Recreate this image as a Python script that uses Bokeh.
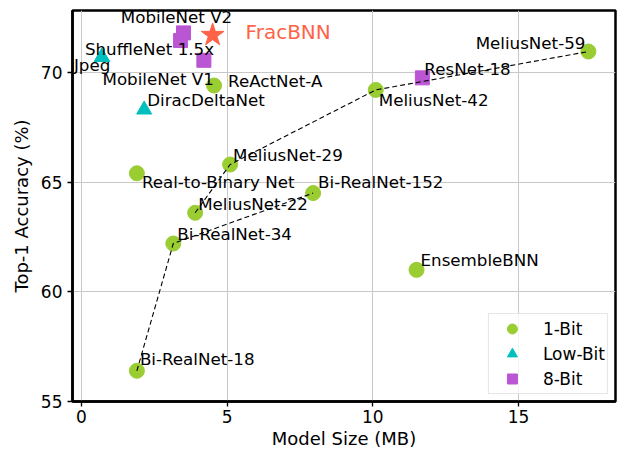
from bokeh.plotting import figure
from bokeh.models import ColumnDataSource, Range1d, FixedTicker
from bokeh.core.properties import value, field
from bokeh.embed import file_html
from bokeh.resources import INLINE

# ---------------- data ----------------
x_ticks = [0, 5, 10, 15]
y_ticks = [55, 60, 65, 70]

one_bit_names = ["Bi-RealNet-18", "Bi-RealNet-34", "Bi-RealNet-152", "MeliusNet-22",
                 "MeliusNet-29", "MeliusNet-42", "MeliusNet-59", "Real-to-Binary Net",
                 "ReActNet-A", "EnsembleBNN"]
one_bit_size = [1.9, 3.15, 7.95, 3.9, 5.1, 10.1, 17.4, 1.9, 4.55, 11.5]
one_bit_acc = [56.4, 62.2, 64.5, 63.6, 65.8, 69.2, 70.95, 65.4, 69.4, 61.0]

low_bit_names = ["ShuffleNet 1.5x", "Jpeg", "DiracDeltaNet"]
low_bit_size = [0.7, 0.7, 2.15]
low_bit_acc = [70.7, 70.7, 68.3]

eight_bit_names = ["MobileNet V2", "", "MobileNet V1", "ResNet-18"]
eight_bit_size = [3.5, 3.4, 4.2, 11.7]
eight_bit_acc = [71.8, 71.45, 70.55, 69.75]

ours_names = ["FracBNN"]
ours_size = [4.5]
ours_acc = [71.7]

bireal_chain = ["Bi-RealNet-18", "Bi-RealNet-34", "Bi-RealNet-152"]
melius_chain = ["MeliusNet-22", "MeliusNet-29", "MeliusNet-42", "MeliusNet-59"]

# ---------------- styles ----------------
FONT = "DejaVu Sans"
C_ONE = "#9ACD32"
C_LOW = "#00BFBF"
C_EIGHT = "#BA55D3"
C_OURS = "#FF6347"

# label offsets in screen pixels (dx, dy-down, align)
label_style = {
    "Bi-RealNet-18": (3, -12, "left"),
    "Bi-RealNet-34": (4, -10, "left"),
    "Bi-RealNet-152": (5, -11, "left"),
    "MeliusNet-22": (3, -9, "left"),
    "MeliusNet-29": (3, -10, "left"),
    "MeliusNet-42": (3, 10, "left"),
    "MeliusNet-59": (-3, -9, "right"),
    "Real-to-Binary Net": (5, 9, "left"),
    "ReActNet-A": (14, -5, "left"),
    "EnsembleBNN": (4, -10, "left"),
    "ShuffleNet 1.5x": (-17, -8, "left"),
    "Jpeg": (-28, 8, "left"),
    "DiracDeltaNet": (3, -10, "left"),
    "MobileNet V2": (-7, -16, "center"),
    "MobileNet V1": (10, 19, "right"),
    "ResNet-18": (2, -9, "left"),
}

p = figure(width=617, height=452, output_backend="svg", toolbar_location=None,
           x_range=Range1d(-0.31, 18.33), y_range=Range1d(55, 72.82),
           min_border_left=72, min_border_right=2, min_border_top=10, min_border_bottom=51,
           background_fill_color="white", border_fill_color="white")

p.outline_line_color = "black"
p.outline_line_width = 2.5
p.outline_line_alpha = 1

for ax in (p.xaxis[0], p.yaxis[0]):
    ax.axis_line_color = "black"
    ax.axis_line_width = 2.5
    ax.major_tick_line_color = "black"
    ax.major_tick_line_width = 1.3
    ax.major_tick_out = 5
    ax.major_tick_in = 0
    ax.minor_tick_line_color = None
    ax.major_label_text_font = FONT
    ax.major_label_text_font_size = "17px"
    ax.major_label_text_color = "black"
    ax.axis_label_text_font = FONT
    ax.axis_label_text_font_size = "18px"
    ax.axis_label_text_font_style = "normal"
    ax.axis_label_text_color = "black"

p.xaxis.ticker = FixedTicker(ticks=x_ticks)
p.yaxis.ticker = FixedTicker(ticks=y_ticks)
p.xaxis.axis_label = "Model Size (MB)"
p.yaxis.axis_label = "Top-1 Accuracy (%)"
p.xaxis.major_label_standoff = 3
p.xaxis.axis_label_standoff = 2
p.yaxis.major_label_standoff = 5
p.yaxis.axis_label_standoff = 6

p.grid.grid_line_color = "#c8c8c8"
p.grid.grid_line_width = 1
p.xgrid.ticker = FixedTicker(ticks=x_ticks)
p.ygrid.ticker = FixedTicker(ticks=y_ticks)

# markers
p.scatter(one_bit_size, one_bit_acc, marker="circle", size=15, fill_color=C_ONE,
          line_color=C_ONE, legend_label="1-Bit")
p.scatter(low_bit_size, low_bit_acc, marker="triangle", size=15, fill_color=C_LOW,
          line_color=C_LOW, legend_label="Low-Bit")
p.scatter(eight_bit_size, eight_bit_acc, marker="square", size=14, fill_color=C_EIGHT,
          line_color=C_EIGHT, legend_label="8-Bit")
p.scatter(ours_size, ours_acc, marker="star", size=24, fill_color=C_OURS, line_color=C_OURS)

# dashed trend lines
lookup = {n: (s, a) for n, s, a in zip(one_bit_names, one_bit_size, one_bit_acc)}
for chain in (bireal_chain, melius_chain):
    p.line([lookup[n][0] for n in chain], [lookup[n][1] for n in chain],
           line_dash="5 3", line_color="black", line_width=1.1)

# labels
lx, ly, lt, ldx, ldy, lal = [], [], [], [], [], []
for names, xs, ys in ((one_bit_names, one_bit_size, one_bit_acc),
                      (low_bit_names, low_bit_size, low_bit_acc),
                      (eight_bit_names, eight_bit_size, eight_bit_acc)):
    for n, xv, yv in zip(names, xs, ys):
        if not n:
            continue
        dx, dy, al = label_style[n]
        lx.append(xv); ly.append(yv); lt.append(n)
        ldx.append(dx); ldy.append(dy); lal.append(al)

src = ColumnDataSource(dict(x=lx, y=ly, t=lt, dx=ldx, dy=ldy, al=lal))
p.text(x="x", y="y", text="t", x_offset="dx", y_offset="dy", text_align=field("al"),
       text_baseline="middle", text_font=value(FONT), text_font_size="16.7px",
       text_color="black", source=src)

p.text(x=ours_size, y=ours_acc, text=ours_names, x_offset=33, y_offset=-3,
       text_align="left", text_baseline="middle", text_font=value(FONT),
       text_font_size="20px", text_color=C_OURS)

# legend
lg = p.legend[0]
lg.location = "bottom_right"
lg.margin = 7
lg.padding = 2
lg.spacing = 0
lg.glyph_width = 42
lg.glyph_height = 25
lg.label_standoff = 10
lg.label_width = 62
lg.label_height = 20
lg.label_text_font = FONT
lg.label_text_font_size = "17px"
lg.label_text_color = "black"
lg.border_line_color = "#cccccc"
lg.border_line_width = 1
lg.background_fill_color = "white"
lg.background_fill_alpha = 0.8

open("out.html", "w").write(file_html(p, INLINE))
